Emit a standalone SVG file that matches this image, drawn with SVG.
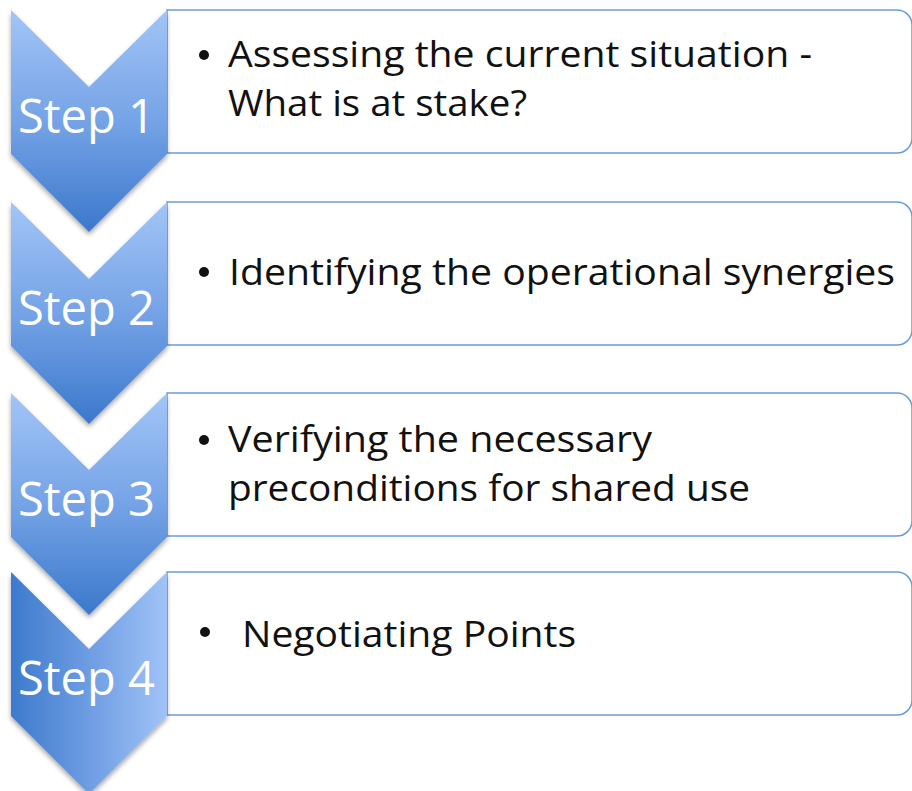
<svg xmlns="http://www.w3.org/2000/svg" width="912" height="791" viewBox="0 0 912 791">
<defs>
<linearGradient id="gv" x1="0" y1="0" x2="0" y2="1">
<stop offset="0" stop-color="#A2C5F7"/>
<stop offset="0.5" stop-color="#75A3E6"/>
<stop offset="1" stop-color="#3B78CC"/>
</linearGradient>
<linearGradient id="gh" x1="0" y1="0" x2="1" y2="0">
<stop offset="0" stop-color="#3D7ACD"/>
<stop offset="0.5" stop-color="#6E9DE2"/>
<stop offset="1" stop-color="#A0C3F7"/>
</linearGradient>
<filter id="sh" x="-20%" y="-20%" width="140%" height="140%">
<feGaussianBlur in="SourceAlpha" stdDeviation="2.5"/>
<feOffset dx="0" dy="3" result="b"/>
<feComponentTransfer><feFuncA type="linear" slope="0.35"/></feComponentTransfer>
<feMerge><feMergeNode/><feMergeNode in="SourceGraphic"/></feMerge>
</filter>
<path id="chev" d="M11,0 L89,77 L167,0 L167,144 L89,222 L11,144 Z"/>
<path id="box" d="M167,0 H897 A15,15 0 0 1 912,15 V128 A15,15 0 0 1 897,143 H167 Z"/>
</defs>
<style>
.box{fill:#ffffff;stroke:#6B9AD9;stroke-width:1.5}
.step{font-family:"Open Sans","Liberation Sans",sans-serif;font-size:48px;fill:#ffffff}
.txt{font-family:"Open Sans","Liberation Sans",sans-serif;font-size:36px;fill:#111111}
.bul{fill:#111111}
</style>
<rect width="912" height="791" fill="#ffffff"/>
<g id="step1">
<use href="#box" class="box" transform="translate(0,10)"/>
<use href="#chev" fill="url(#gv)" filter="url(#sh)" transform="translate(0,10)"/>
<text class="step" x="18" y="133" textLength="137" lengthAdjust="spacingAndGlyphs">Step 1</text>
<circle class="bul" cx="204" cy="55" r="5"/>
<text class="txt" x="228" y="67" textLength="584" lengthAdjust="spacingAndGlyphs">Assessing the current situation -</text>
<text class="txt" x="228" y="116" textLength="299" lengthAdjust="spacingAndGlyphs">What is at stake?</text>
</g>
<g id="step2">
<use href="#box" class="box" transform="translate(0,202)"/>
<use href="#chev" fill="url(#gv)" filter="url(#sh)" transform="translate(0,202)"/>
<text class="step" x="18" y="325" textLength="137" lengthAdjust="spacingAndGlyphs">Step 2</text>
<circle class="bul" cx="204" cy="272" r="5"/>
<text class="txt" x="229" y="285" textLength="666" lengthAdjust="spacingAndGlyphs">Identifying the operational synergies</text>
</g>
<g id="step3">
<use href="#box" class="box" transform="translate(0,393)"/>
<use href="#chev" fill="url(#gv)" filter="url(#sh)" transform="translate(0,393)"/>
<text class="step" x="18" y="516" textLength="137" lengthAdjust="spacingAndGlyphs">Step 3</text>
<circle class="bul" cx="204" cy="440" r="5"/>
<text class="txt" x="228" y="452" textLength="424" lengthAdjust="spacingAndGlyphs">Verifying the necessary</text>
<text class="txt" x="228" y="501" textLength="522" lengthAdjust="spacingAndGlyphs">preconditions for shared use</text>
</g>
<g id="step4">
<use href="#box" class="box" transform="translate(0,572)"/>
<use href="#chev" fill="url(#gh)" filter="url(#sh)" transform="translate(0,572)"/>
<text class="step" x="18" y="695" textLength="137" lengthAdjust="spacingAndGlyphs">Step 4</text>
<circle class="bul" cx="205" cy="632" r="5"/>
<text class="txt" x="242" y="647" textLength="334" lengthAdjust="spacingAndGlyphs">Negotiating Points</text>
</g>
<g id="connectors"/>
</svg>
